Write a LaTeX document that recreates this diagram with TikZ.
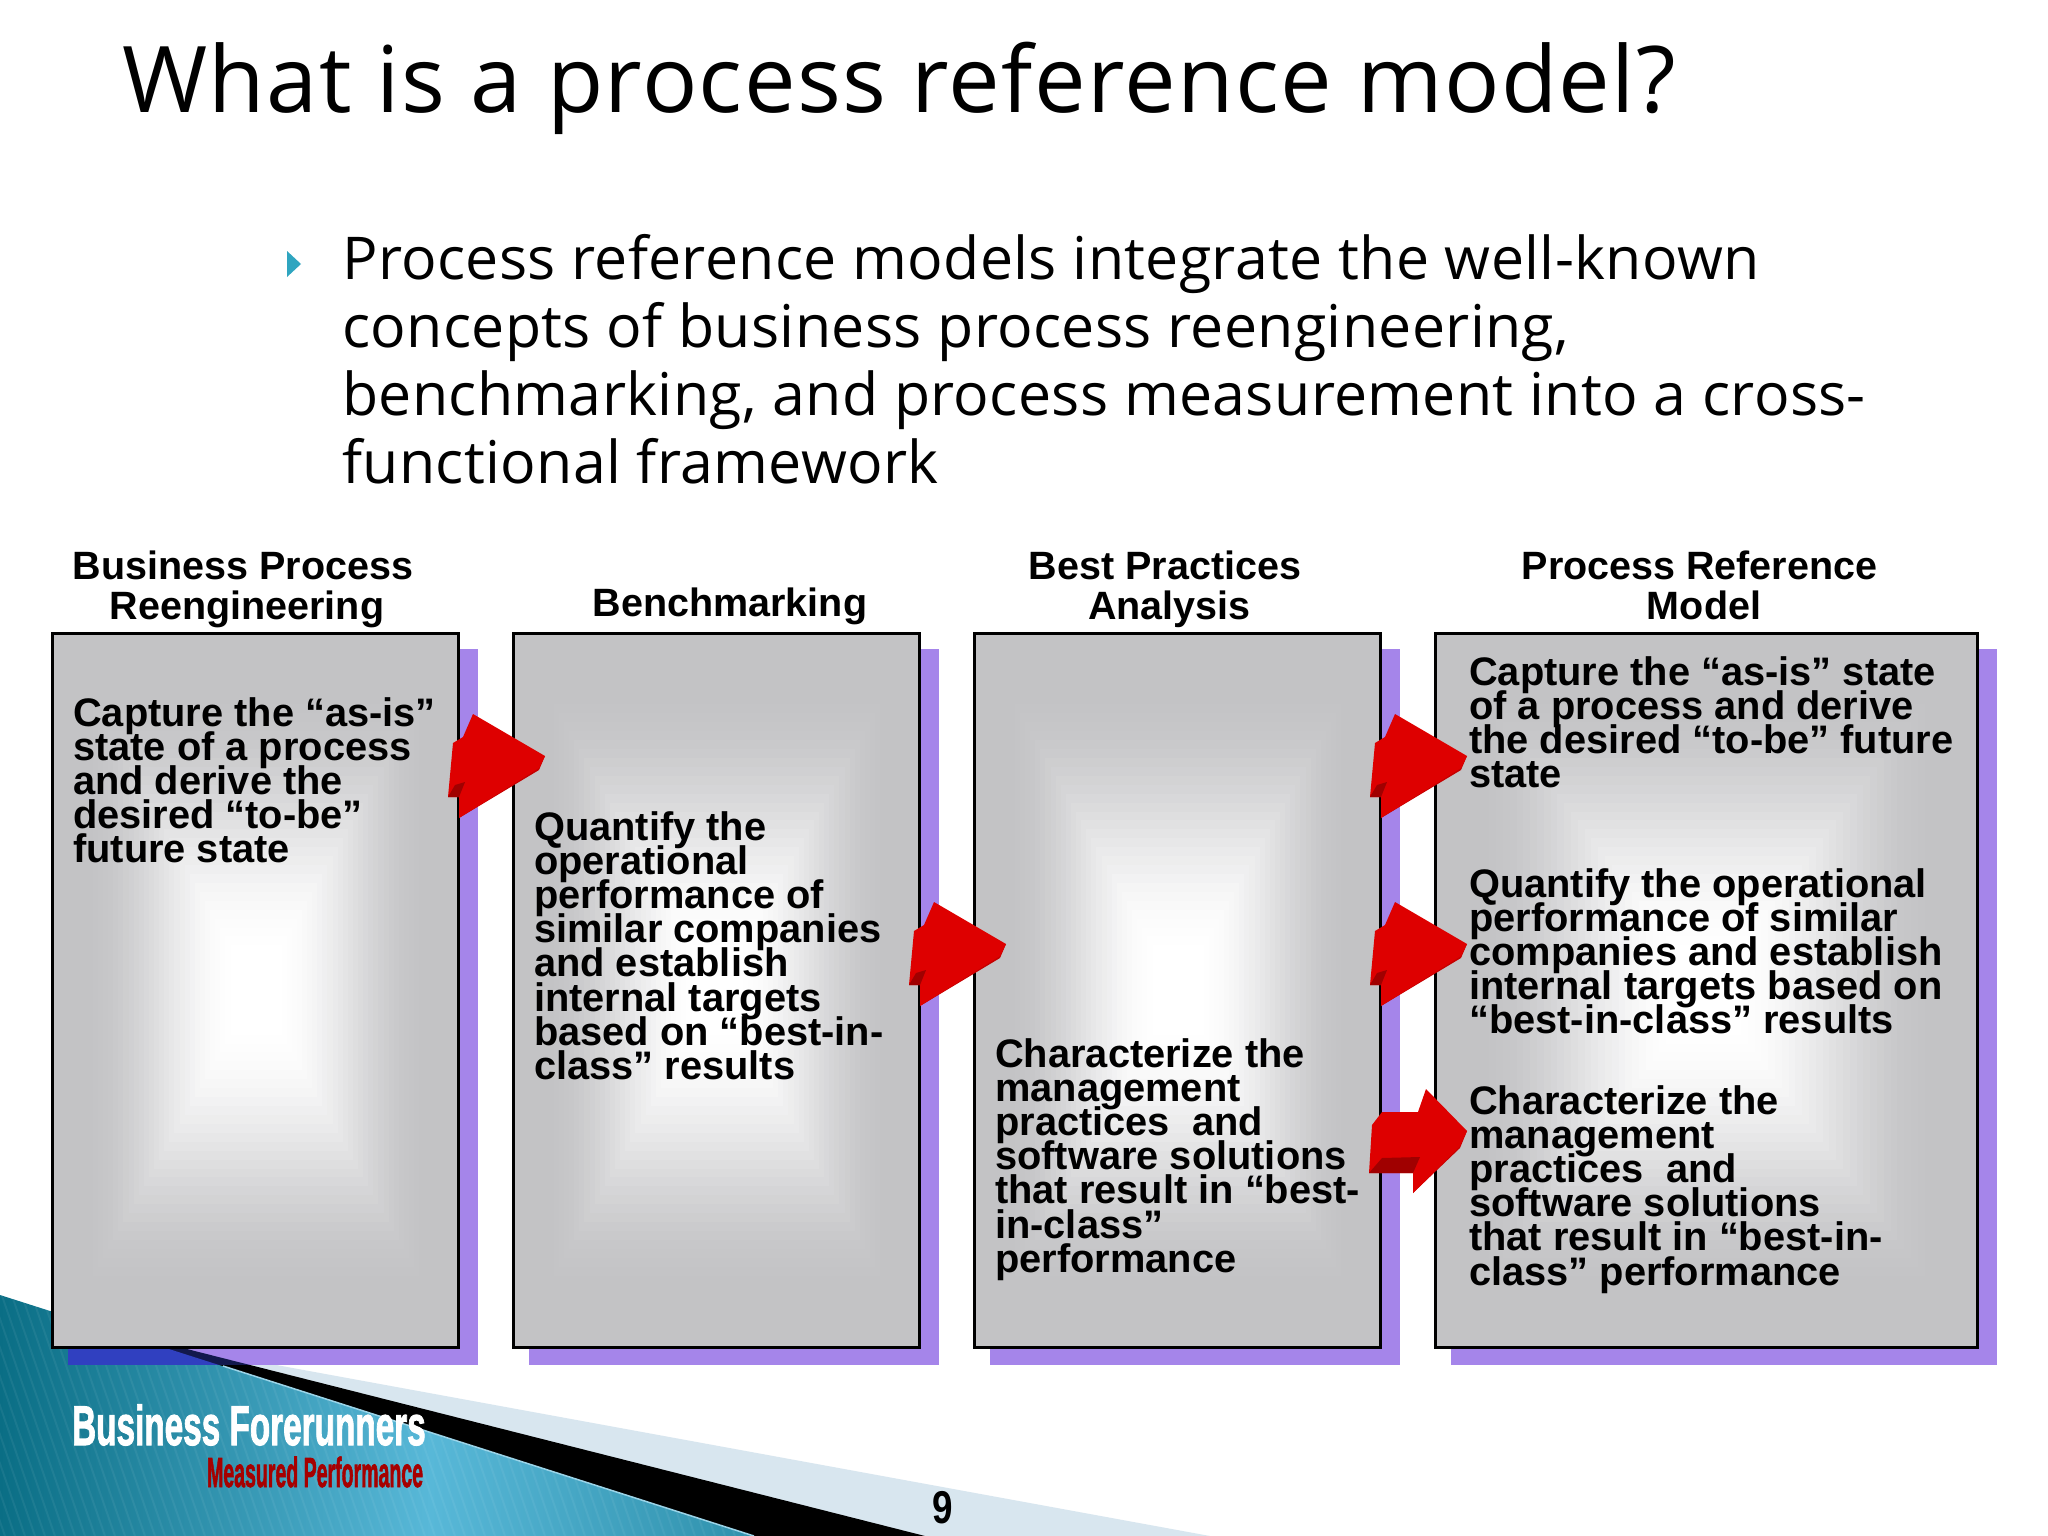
\documentclass[tikz,border=0pt]{standalone}
\usepackage{fontspec}
\setmainfont{Liberation Sans}
\newfontfamily\titlefont[LetterSpace=1.5]{Open Sans}
\newfontfamily\parafont[LetterSpace=0.6]{Open Sans}
\newfontfamily\logofont[FakeBold=2]{Liberation Sans Bold}
\newcommand{\tightlines}{\lineskiplimit=-100pt\relax}
\definecolor{boxgrey}{HTML}{C3C3C5}
\definecolor{shadowviolet}{HTML}{A585EA}
\definecolor{shadowblue}{HTML}{3040C0}
\definecolor{wedgelight}{HTML}{D8E6EF}
\definecolor{tealdark}{HTML}{0A6E85}
\definecolor{teallight}{HTML}{58B8D8}
\definecolor{bulletteal}{HTML}{2FA5C0}
\definecolor{arrowred}{HTML}{DE0000}
\definecolor{arrowside}{HTML}{C40000}
\definecolor{arrowdark}{HTML}{A00000}
\tikzset{
  frame/.style={draw=black, line width=3pt, anchor=north west, inner sep=0pt, outer sep=0pt, minimum height=714pt},
  headtext/.style={font=\fontsize{39.5}{40}\selectfont\bfseries, align=center, inner sep=0pt, anchor=base},
  boxtext/.style={font=\fontsize{39.8}{34.2}\selectfont\bfseries\tightlines, align=left, inner sep=0pt, anchor=north west},
  slantarrow/.pic={
    \fill[arrowside] (125,76) -- (119,90) -- (39,138) -- (48,90) -- cycle;
    \fill[arrowred] (125,76) -- (53,34) -- (43,57) -- (33,63) -- (28,117) -- (39,117) -- (39,138) -- (119,88) -- cycle;
    \fill[arrowdark] (28,117) -- (39,117) -- (45,102) -- (35,105) -- cycle;
  }
}
\begin{document}
\begin{tikzpicture}[x=1pt,y=-1pt]
  \useasboundingbox (0,0) rectangle (2048,1536);
  \fill[white] (0,0) rectangle (2048,1536);
  % wedge in the corner
  \fill[wedgelight] (178,1347) -- (1210,1536) -- (0,1536) -- cycle;
  \fill[black] (104,1328) -- (925,1536) -- (0,1536) -- cycle;
  \begin{scope}
    \clip (0,1295) -- (754,1536) -- (0,1536) -- cycle;
    \shade[left color=tealdark, right color=tealdark!70!teallight, middle color=teallight] (0,1290) rectangle (860,1536);
    \foreach \x in {-100,-90,...,760}
      \draw[white, opacity=0.06, line width=2pt] (\x,1290) -- (\x+85,1536);
  \end{scope}
  \draw[teallight!60!white, line width=1.5pt] (223,1366) -- (754,1536);
  % shadows and boxes
  \foreach \xa/\xb in {52/460,513/921,974/1382,1435/1979}
    \fill[shadowviolet] (\xa+16,649) rectangle (\xb+18,1365);
  \begin{scope}
    \clip (104,1328) -- (925,1536) -- (0,1536) -- cycle;
    \fill[black!60!shadowblue] (68,1300) rectangle (478,1365);
  \end{scope}
  \begin{scope}
    \clip (0,1295) -- (754,1536) -- (0,1536) -- cycle;
    \fill[shadowblue] (68,1300) rectangle (478,1365);
  \end{scope}
  \foreach \xa/\xb/\name in {52/460/one,513/921/two,974/1382/three,1435/1979/four}
  {
    \fill[boxgrey] (\xa,633) rectangle (\xb,1347);
    \foreach \i in {1,2,...,40}
    {
      \pgfmathsetmacro\t{\i/40}
      \pgfmathsetmacro\u{max(0,min(1,(\t-0.15)/0.75))}
      \pgfmathsetmacro\p{100*\u*\u*(3-2*\u)}
      \pgfmathsetmacro\dx{(\xb-\xa)/2*\t}
      \pgfmathsetmacro\dy{357*\t}
      \fill[white!\p!boxgrey] (\xa+\dx,633+\dy) rectangle (\xb-\dx,1347-\dy);
    }
    \pgfmathsetmacro\w{\xb-\xa-1.5}
    \node[frame, minimum width=\w pt] (box\name) at (\xa,633) {};
  }
  % title and paragraph
  \node[font=\titlefont\fontsize{92}{100}\selectfont, anchor=base west, inner sep=0pt] (title) at (122,113) {What is a process reference model?};
  \fill[bulletteal] (287,251) -- (287,277) -- (301,264) -- cycle;
  \node[font=\parafont\fontsize{59}{68}\selectfont, align=left, anchor=north west, inner sep=0pt] (para) at (342,234)
    {Process reference models integrate the well-known\\
     concepts of business process reengineering,\\
     benchmarking, and process measurement into a cross-\\
     functional framework};
  % headings
  \node[headtext] (headone) at (243,619) {Business Process\\\hspace*{8pt}Reengineering};
  \node[headtext] (headtwo) at (730,616) {Benchmarking};
  \node[headtext] (headthree) at (1165,619) {Best Practices\\\hspace*{9pt}Analysis};
  \node[headtext] (headfour) at (1699.5,619) {Process Reference\\\hspace*{9pt}Model};
  % texts in the boxes
  \node[boxtext] (textone) at (73,697) {Capture the “as-is”\\state of a process\\and derive the\\desired “to-be”\\future state};
  \node[boxtext] (texttwo) at (534,811) {Quantify the\\operational\\performance of\\similar companies\\and establish\\internal targets\\based on “best-in-\\class” results};
  \node[boxtext] (textthree) at (995,1038) {Characterize the\\management\\practices\ \ and\\software solutions\\that result in “best-\\in-class”\\performance};
  \node[boxtext] (textfoura) at (1469,656) {Capture the “as-is” state\\of a process and derive\\the desired “to-be” future\\state};
  \node[boxtext] (textfourb) at (1469,868) {Quantify the operational\\performance of similar\\companies and establish\\internal targets based on\\“best-in-class” results};
  \node[boxtext] (textfourc) at (1469,1085) {Characterize the\\management\\practices\ \ and\\software solutions\\that result in “best-in-\\class” performance};
  % red arrows
  \pic at (420,680) {slantarrow};
  \pic at (881,868) {slantarrow};
  \pic at (1342,680) {slantarrow};
  \pic at (1342,868) {slantarrow};
  \fill[arrowside] (1467,1131) -- (1460,1148) -- (1413,1193) -- (1420,1130) -- cycle;
  \fill[arrowred] (1467,1131) -- (1426,1089) -- (1418,1112) -- (1382,1112) -- (1372,1125) -- (1369,1173) -- (1413,1173) -- (1413,1193) -- (1460,1146) -- cycle;
  \fill[arrowdark] (1369,1173) -- (1382,1158) -- (1420,1157) -- (1413,1173) -- cycle;
  % logo and page number
  \node[white, font=\logofont\fontsize{56}{60}\selectfont, xscale=0.595, transform shape, anchor=base west, inner sep=0pt] (logoname) at (72,1445) {Business Forerunners};
  \node[red!65!black, font=\logofont\fontsize{42}{46}\selectfont, xscale=0.465, transform shape, anchor=base west, inner sep=0pt] (logotag) at (207,1487) {Measured Performance};
  \node[font=\fontsize{46}{50}\selectfont\bfseries, xscale=0.8, transform shape, anchor=base, inner sep=0pt] (pagenum) at (943,1523) {9};
\end{tikzpicture}
\end{document}
